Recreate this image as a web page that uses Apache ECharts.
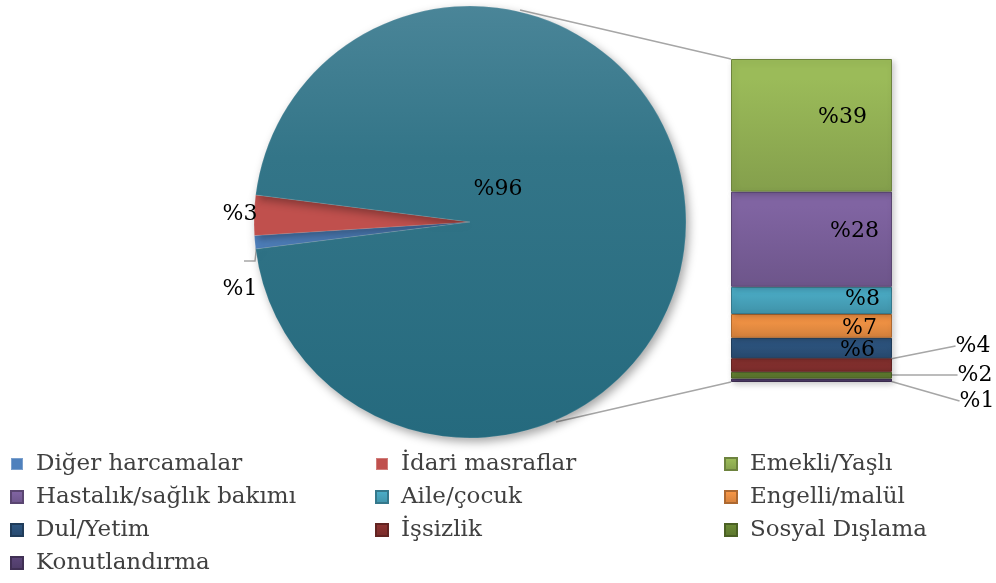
<!DOCTYPE html>
<html>
<head>
<meta charset="utf-8">
<script src="https://cdn.jsdelivr.net/npm/echarts@6/dist/echarts.min.js"></script>
<style>
html,body{margin:0;padding:0;background:#fff;}
#c{width:996px;height:583px;}
</style>
</head>
<body>
<div id="c"></div>
<script>
// ---- data ----
const pieNames = ['Diğer harcamalar', 'İdari masraflar', 'Sosyal koruma'];
const pieValues = [1, 3, 96];
const pieLabels = ['%1', '%3', '%96'];

// bar breakdown (bottom to top)
const barNames = ['Konutlandırma', 'Sosyal Dışlama', 'İşsizlik', 'Dul/Yetim', 'Engelli/malül', 'Aile/çocuk', 'Hastalık/sağlık bakımı', 'Emekli/Yaşlı'];
const barValues = [1, 2, 4, 6, 7, 8, 28, 39];
const barLabels = ['%1', '%2', '%4', '%6', '%7', '%8', '%28', '%39'];

const legendCol1 = ['Diğer harcamalar', 'Hastalık/sağlık bakımı', 'Dul/Yetim', 'Konutlandırma'];
const legendCol2 = ['İdari masraflar', 'Aile/çocuk', 'İşsizlik'];
const legendCol3 = ['Emekli/Yaşlı', 'Engelli/malül', 'Sosyal Dışlama'];

// ---- styles ----
const FONT = 'DejaVu Serif';
const FS = 22;
const LFS = 23;
const pieColors = ['#4F81BD', '#C0504D', '#2C7084'];
const barColors = ['#5B4578', '#6B8A35', '#8C3331', '#2E5681', '#F79646', '#4BACC6', '#8064A2', '#9BBB59'];

const chart = echarts.init(document.getElementById('c'));

const cx = 470, cy = 222, R = 216;
const barLeft = 731, barTop = 59, barW = 161, barH = 323;

function darker(hex, f) {
  const n = parseInt(hex.slice(1), 16);
  const r = Math.round(((n >> 16) & 255) * f), g = Math.round(((n >> 8) & 255) * f), b = Math.round((n & 255) * f);
  return 'rgb(' + r + ',' + g + ',' + b + ')';
}
function grad(hex) {
  return new echarts.graphic.LinearGradient(0, 0, 0, 1, [
    {offset: 0, color: hex},
    {offset: 0.15, color: hex},
    {offset: 1, color: darker(hex, 0.85)}
  ]);
}

const pieLabelPos = [
  {x: 240, y: 289, line: [[257, 243], [255, 261], [244, 261]]},
  {x: 240, y: 214, line: null},
  {x: 498, y: 189, line: null}
];

const barLabelCfg = [
  {x: 977, y: 401, line: [[892, 379], [940, 400], [952, 400]]},
  {x: 975, y: 375, line: [[892, 375], [952, 372]]},
  {x: 973, y: 346, line: [[892, 365], [937, 344], [951, 344]]},
  null, null, null, null, null
];
// inside-right label distance and vertical offset per segment
const barLabelDist = [0, 0, 0, 17, 15, 12, 13, 25];
const barLabelDy = [0, 0, 0, 2, 2, -1, -8, -8];

const series = [];
series.push({
  type: 'pie',
  center: [cx, cy],
  radius: R,
  startAngle: 187.2,
  clockwise: true,
  silent: true,
  data: pieNames.map((n, i) => ({
    name: n, value: pieValues[i],
    itemStyle: {color: i === 2 ? new echarts.graphic.LinearGradient(0, 0, 0, 1, [
      {offset: 0, color: '#4A8598'}, {offset: 0.35, color: '#337588'}, {offset: 1, color: '#256A7E'}
    ]) : pieColors[i]}
  })),
  itemStyle: {borderColor: 'rgba(255,255,255,0.25)', borderWidth: 0.5, shadowBlur: 10, shadowOffsetX: 3, shadowOffsetY: 4, shadowColor: 'rgba(0,0,0,0.35)'},
  label: {
    show: true,
    position: 'outside',
    formatter: p => pieLabels[p.dataIndex],
    fontFamily: FONT, fontSize: FS, color: '#000'
  },
  labelLine: {show: true, lineStyle: {color: '#A6A6A6', width: 1.5}},
  labelLayout: function (p) {
    const c = pieLabelPos[p.dataIndex];
    const o = {x: c.x, y: c.y, align: 'center', verticalAlign: 'middle'};
    if (c.line) o.labelLinePoints = c.line; else o.labelLinePoints = [[c.x, c.y], [c.x, c.y], [c.x, c.y]];
    return o;
  },
  z: 2
});

barNames.forEach((n, i) => {
  const s = {
    type: 'bar',
    name: n,
    stack: 'total',
    barWidth: '100%',
    data: [barValues[i]],
    itemStyle: {color: grad(barColors[i]), borderColor: darker(barColors[i], 0.7), borderWidth: 1,
      shadowBlur: 6, shadowOffsetX: 2, shadowOffsetY: 2, shadowColor: 'rgba(0,0,0,0.2)'},
    silent: true,
    label: {
      show: true,
      formatter: barLabels[i],
      fontFamily: FONT, fontSize: FS, color: '#000'
    }
  };
  if (barLabelCfg[i]) {
    const c = barLabelCfg[i];
    s.labelLine = {show: true, lineStyle: {color: '#A6A6A6', width: 1.5}};
    s.label.position = 'right';
    s.labelLayout = {x: c.x, y: c.y, align: 'center', verticalAlign: 'middle', labelLinePoints: c.line};
  } else {
    s.label.position = 'insideRight';
    s.label.distance = barLabelDist[i];
    s.label.offset = [0, barLabelDy[i]];
  }
  series.push(s);
});

function legendCfg(left, data) {
  return {
    orient: 'vertical', left: left, top: 452, height: 131,
    padding: 0,
    data: data,
    icon: 'rect', itemWidth: 12, itemHeight: 12, itemGap: 9,
    selectedMode: false,
    textStyle: {fontFamily: FONT, fontSize: LFS, color: '#404040', lineHeight: 24, padding: [0, 0, 0, 8]}
  };
}

chart.setOption({
  animation: false,
  backgroundColor: '#fff',
  grid: {left: barLeft, top: barTop, width: barW, height: barH},
  xAxis: {type: 'category', data: ['x'], show: false},
  yAxis: {type: 'value', min: 0, max: 95, show: false},
  legend: [legendCfg(10, legendCol1), legendCfg(375, legendCol2), legendCfg(724, legendCol3)],
  series: series,
  graphic: [
    {type: 'line', shape: {x1: 520, y1: 10, x2: barLeft, y2: barTop}, style: {stroke: '#A6A6A6', lineWidth: 1.5}, z: 0},
    {type: 'line', shape: {x1: 556, y1: 422, x2: barLeft, y2: barTop + barH}, style: {stroke: '#A6A6A6', lineWidth: 1.5}, z: 0}
  ]
});
</script>
</body>
</html>
